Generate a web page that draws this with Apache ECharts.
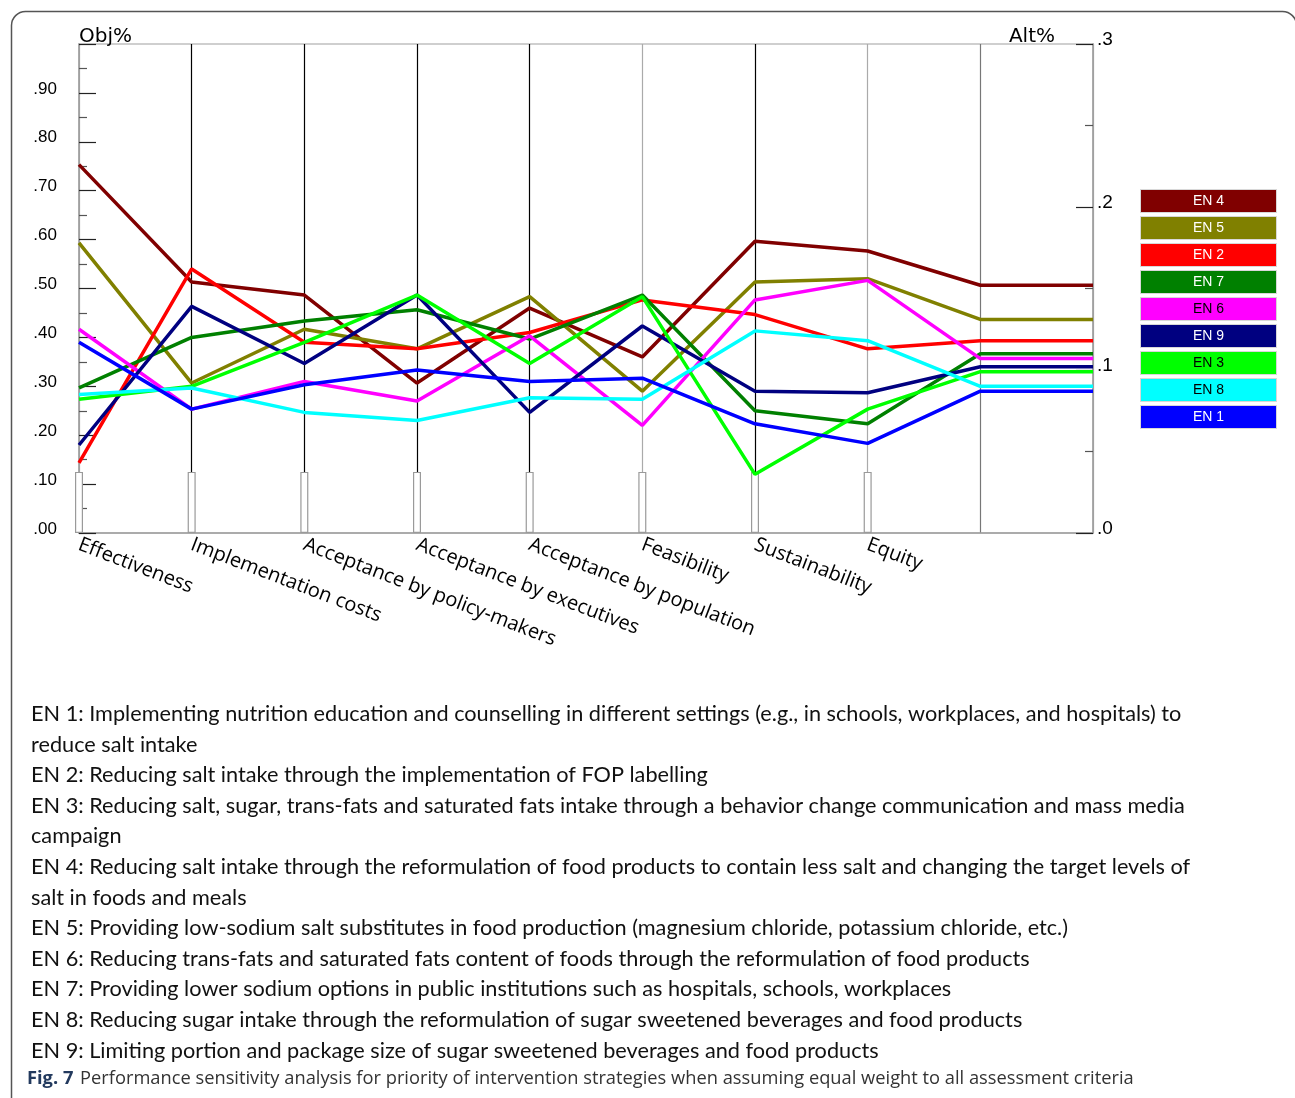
<!DOCTYPE html>
<html>
<head>
<meta charset="utf-8">
<title>Performance sensitivity analysis</title>
<script src="https://cdn.jsdelivr.net/npm/echarts@6/dist/echarts.min.js"></script>
<style>
  html, body { margin: 0; padding: 0; background: #fff; }
  #chart { width: 1295px; height: 1098px; }
</style>
</head>
<body>
<div id="chart"></div>
<script>
// Assessment criteria (the two trailing slots hold the overall column and the right-hand axis)
const criteria = ['Effectiveness', 'Implementation costs', 'Acceptance by policy-makers',
  'Acceptance by executives', 'Acceptance by population', 'Feasibility', 'Sustainability', 'Equity'];
const categories = criteria.concat(['', '']);

// Criterion weights (Obj%): equal weight for all eight criteria
const criterionWeights = [0.125, 0.125, 0.125, 0.125, 0.125, 0.125, 0.125, 0.125];

// Alternative priorities (Alt%) per criterion, last value = overall priority
const EN4 = [0.226, 0.154, 0.146, 0.092, 0.138, 0.108, 0.179, 0.173, 0.152];
const EN5 = [0.178, 0.092, 0.125, 0.113, 0.145, 0.087, 0.154, 0.156, 0.131];
const EN2 = [0.043, 0.162, 0.117, 0.113, 0.123, 0.143, 0.134, 0.113, 0.118];
const EN7 = [0.089, 0.120, 0.130, 0.137, 0.119, 0.146, 0.075, 0.067, 0.110];
const EN6 = [0.125, 0.076, 0.093, 0.081, 0.121, 0.066, 0.143, 0.155, 0.107];
const EN9 = [0.054, 0.139, 0.104, 0.146, 0.074, 0.127, 0.087, 0.086, 0.102];
const EN3 = [0.082, 0.090, 0.117, 0.146, 0.104, 0.145, 0.036, 0.076, 0.099];
const EN8 = [0.085, 0.089, 0.074, 0.069, 0.083, 0.082, 0.124, 0.118, 0.090];
const EN1 = [0.117, 0.076, 0.091, 0.100, 0.093, 0.095, 0.067, 0.055, 0.087];

// Ranked by overall priority (legend order)
const alternatives = [
  { name: 'EN 4', values: EN4, color: '#800000', text: '#ffffff' },
  { name: 'EN 5', values: EN5, color: '#808000', text: '#ffffff' },
  { name: 'EN 2', values: EN2, color: '#ff0000', text: '#ffffff' },
  { name: 'EN 7', values: EN7, color: '#008000', text: '#ffffff' },
  { name: 'EN 6', values: EN6, color: '#ff00ff', text: '#000000' },
  { name: 'EN 9', values: EN9, color: '#000080', text: '#ffffff' },
  { name: 'EN 3', values: EN3, color: '#00ff00', text: '#000000' },
  { name: 'EN 8', values: EN8, color: '#00ffff', text: '#000000' },
  { name: 'EN 1', values: EN1, color: '#0000ff', text: '#ffffff' }
];

// Axis tick labels
const objTicks = ['.00', '.10', '.20', '.30', '.40', '.50', '.60', '.70', '.80', '.90', ''];
const altTicks = ['.0', '.1', '.2', '.3'];

// Strategy descriptions and figure caption
const notes = [
  'EN 1: Implementing nutrition education and counselling in different settings (e.g., in schools, workplaces, and hospitals) to',
  'reduce salt intake',
  'EN 2: Reducing salt intake through the implementation of FOP labelling',
  'EN 3: Reducing salt, sugar, trans-fats and saturated fats intake through a behavior change communication and mass media',
  'campaign',
  'EN 4: Reducing salt intake through the reformulation of food products to contain less salt and changing the target levels of',
  'salt in foods and meals',
  'EN 5: Providing low-sodium salt substitutes in food production (magnesium chloride, potassium chloride, etc.)',
  'EN 6: Reducing trans-fats and saturated fats content of foods through the reformulation of food products',
  'EN 7: Providing lower sodium options in public institutions such as hospitals, schools, workplaces',
  'EN 8: Reducing sugar intake through the reformulation of sugar sweetened beverages and food products',
  'EN 9: Limiting portion and package size of sugar sweetened beverages and food products'
];
const captionLabel = 'Fig. 7';
const captionText = 'Performance sensitivity analysis for priority of intervention strategies when assuming equal weight to all assessment criteria';

const chart = echarts.init(document.getElementById('chart'), null, { renderer: 'canvas' });

const legendRich = {};
alternatives.forEach((a, i) => {
  legendRich['k' + i] = {
    backgroundColor: a.color, color: a.text, width: 135, height: 22, lineHeight: 22,
    align: 'center', fontSize: 14, fontFamily: '"Liberation Sans Narrow", "Liberation Sans", sans-serif',
    borderColor: '#d8d8d8', borderWidth: 1
  };
});

const lineSeries = alternatives.map(a => ({
  name: a.name,
  type: 'line',
  yAxisIndex: 1,
  data: a.values.concat([a.values[a.values.length - 1]]),
  symbol: 'none',
  smooth: false,
  color: a.color,
  lineStyle: { width: 3.5, color: a.color },
  z: 5
}));

const noteGraphics = notes.map((t, i) => ({
  type: 'text', left: 31, top: 703 + i * 30.6,
  style: { text: t, font: '21.7px Lato, "Open Sans", sans-serif', fill: '#111' }
}));

// Tick labels sit a little above their tick marks
const raisedLabel = { t: { padding: [0, 0, 8, 0] } };

chart.setOption({
  animation: false,
  backgroundColor: '#fff',
  grid: { left: 79, right: 202, top: 44, bottom: 565, show: true, borderColor: '#cfcfcf', borderWidth: 2 },
  legend: {
    data: alternatives.map(a => a.name),
    orient: 'vertical', left: 1131, top: 184, itemGap: 3,
    icon: 'rect', itemWidth: 0, itemHeight: 22, selectedMode: false,
    formatter: name => '{k' + alternatives.findIndex(a => a.name === name) + '|' + name + '}',
    textStyle: { rich: legendRich }
  },
  xAxis: {
    type: 'category', data: categories, boundaryGap: false,
    axisLine: { lineStyle: { color: '#a0a0a0', width: 1.5 } },
    axisTick: { show: false },
    splitLine: { show: true, lineStyle: { width: 1.2,
      color: ['#a0a0a0', '#000', '#000', '#000', '#000', '#aaa', '#000', '#aaa', '#777', '#a0a0a0'] } },
    axisLabel: { interval: 0, rotate: -21, margin: 11, color: '#000', fontSize: 20,
      fontFamily: '"Open Sans", "Noto Sans", sans-serif' }
  },
  yAxis: [
    {
      type: 'value', min: 0, max: 1, interval: 0.1, position: 'left',
      name: 'Obj%', nameLocation: 'end', nameGap: -3,
      nameTextStyle: { align: 'left', verticalAlign: 'bottom', fontSize: 20, color: '#000',
        fontFamily: '"DejaVu Sans", Verdana, sans-serif' },
      axisLine: { show: true, lineStyle: { color: '#a0a0a0', width: 1.5 } },
      axisTick: { show: true, inside: true, length: 17, lineStyle: { color: '#222', width: 1.2 } },
      minorTick: { show: true, splitNumber: 2, length: 8, lineStyle: { color: '#555', width: 1.2 } },
      splitLine: { show: false },
      axisLabel: { margin: 22, color: '#000', fontSize: 17, rich: raisedLabel,
        fontFamily: '"Liberation Sans", Arial, sans-serif',
        formatter: v => '{t|' + objTicks[Math.round(v * 10)] + '}' }
    },
    {
      type: 'value', min: 0, max: 0.3, interval: 0.1, position: 'right',
      name: 'Alt%', nameLocation: 'end', nameGap: -3,
      nameTextStyle: { align: 'right', verticalAlign: 'bottom', fontSize: 20, color: '#000',
        padding: [0, 38, 0, 0], fontFamily: '"DejaVu Sans", Verdana, sans-serif' },
      axisLine: { show: true, lineStyle: { color: '#a0a0a0', width: 1.5 } },
      axisTick: { show: true, inside: true, length: 17, lineStyle: { color: '#222', width: 1.2 } },
      minorTick: { show: true, splitNumber: 2, length: 8, lineStyle: { color: '#555', width: 1.2 } },
      splitLine: { show: false },
      axisLabel: { margin: 4, color: '#000', fontSize: 19, rich: raisedLabel,
        fontFamily: '"Liberation Sans", Arial, sans-serif',
        formatter: v => '{t|' + altTicks[Math.round(v * 10)] + '}' }
    }
  ],
  series: [
    {
      name: 'Weight', type: 'bar', yAxisIndex: 0, barWidth: 8, z: 2,
      data: criterionWeights.concat([null, null]),
      itemStyle: { color: '#fff', borderColor: '#9a9a9a', borderWidth: 1.2 },
      silent: true
    }
  ].concat(lineSeries),
  graphic: [
    {
      type: 'rect', left: 9, top: 9, z: -10, silent: true,
      shape: { width: 1285, height: 1120, r: 14 },
      style: { fill: 'none', stroke: '#555', lineWidth: 1.5 }
    }
  ].concat(noteGraphics).concat([
    {
      type: 'text', left: 27, top: 1070,
      style: {
        text: '{b|' + captionLabel + '}  {n|' + captionText + '}',
        rich: {
          b: { font: 'bold 18.3px "Open Sans", sans-serif', fill: '#233a5e' },
          n: { font: '18.3px "Open Sans", sans-serif', fill: '#333' }
        }
      }
    }
  ])
});
</script>
</body>
</html>
